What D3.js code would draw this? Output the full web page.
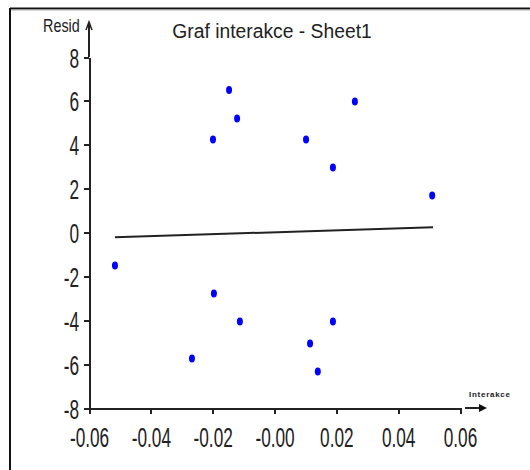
<!DOCTYPE html>
<html>
<head>
<meta charset="utf-8">
<script src="https://cdn.jsdelivr.net/npm/d3@7"></script>
<style>
  body { margin: 0; background: #fff; }
  svg { display: block; }
  text { font-family: "Liberation Sans", Arial, sans-serif; fill: #222; }
  .axis path, .axis line { stroke: #222; stroke-width: 2; shape-rendering: crispEdges; }
</style>
</head>
<body>
<script>
var w = 530, h = 470;

// residuals vs. interaction term
var interakce = [-0.0516, -0.0147, -0.0121, -0.0199, 0.026, 0.0102, 0.0189, 0.051, -0.0196, -0.0112, -0.0267, 0.0115, 0.0189, 0.014];
var resid     = [-1.5, 6.5, 5.2, 4.24, 5.97, 4.24, 2.96, 1.69, -2.78, -4.06, -5.74, -5.06, -4.06, -6.34];

// fitted line
var fitX = [-0.0516, 0.0513];
var fitY = [-0.22, 0.24];

var xTicks = [-0.06, -0.04, -0.02, 0, 0.02, 0.04, 0.06];
var xTickLabels = ['-0.06', '-0.04', '-0.02', '-0.00', '0.02', '0.04', '0.06'];
var yTicks = [-8, -6, -4, -2, 0, 2, 4, 6, 8];
var yTickLabels = ['-8', '-6', '-4', '-2', '0', '2', '4', '6', '8'];

var x = d3.scaleLinear().domain([-0.06, 0.06]).range([89, 460]);
var y = d3.scaleLinear().domain([-8, 8]).range([408, 57]);

var svg = d3.select('body')
  .append('svg')
  .attr('width', w)
  .attr('height', h);

// frame (top + left edge only)
svg.append('line')
  .attr('x1', 10).attr('x2', w).attr('y1', 8.5).attr('y2', 8.5)
  .style('stroke', '#111').style('stroke-width', 2);
svg.append('line')
  .attr('x1', 11).attr('x2', w).attr('y1', 10).attr('y2', 10)
  .style('stroke', '#aaa').style('stroke-width', 1);
svg.append('line')
  .attr('x1', 10).attr('x2', 10).attr('y1', 8).attr('y2', h)
  .style('stroke', '#111').style('stroke-width', 2);

// title
svg.append('text')
  .attr('transform', 'translate(272,38) scale(0.92,1)')
  .style('text-anchor', 'middle')
  .style('font-size', '21px')
  .text('Graf interakce - Sheet1');

// x axis
var gx = svg.append('g')
  .attr('class', 'axis')
  .attr('transform', 'translate(0,' + y(-8) + ')')
  .call(d3.axisBottom(x)
    .tickValues(xTicks)
    .tickFormat(function(d, i) { return xTickLabels[i]; })
    .tickSize(6)
    .tickSizeOuter(0));

gx.selectAll('text')
  .attr('y', null)
  .attr('dy', null)
  .attr('transform', 'translate(0,39) scale(0.82,1.35)')
  .style('font-size', '21px')
  .style('fill', '#222');

// y axis
var gy = svg.append('g')
  .attr('class', 'axis')
  .attr('transform', 'translate(' + x(-0.06) + ',0)')
  .call(d3.axisLeft(y)
    .tickValues(yTicks)
    .tickFormat(function(d, i) { return yTickLabels[i]; })
    .tickSize(5)
    .tickSizeOuter(0));

gy.selectAll('text')
  .attr('x', null)
  .attr('dy', null)
  .attr('transform', 'translate(-10,10) scale(0.82,1.35)')
  .style('font-size', '21px')
  .style('fill', '#222');

gx.select('.domain').style('stroke-linecap', 'square');

// y axis extension + arrow
svg.append('line')
  .attr('x1', x(-0.06)).attr('x2', x(-0.06))
  .attr('y1', y(8)).attr('y2', 23)
  .style('stroke', '#222').style('stroke-width', 2);
svg.append('path')
  .attr('d', 'M' + (x(-0.06) - 3) + ',30 L' + x(-0.06) + ',22 L' + (x(-0.06) + 3) + ',30')
  .style('fill', 'none').style('stroke', '#222').style('stroke-width', 1.5);

// x axis arrow
svg.append('line')
  .attr('x1', 465).attr('x2', 481)
  .attr('y1', y(-8)).attr('y2', y(-8))
  .style('stroke', '#222').style('stroke-width', 2);
svg.append('path')
  .attr('d', 'M479,' + (y(-8) - 4) + ' L487,' + y(-8) + ' L479,' + (y(-8) + 4) + ' Z')
  .style('fill', '#111');

// axis titles
svg.append('text')
  .attr('transform', 'translate(43,32) scale(0.9,1.1)')
  .style('font-size', '16px')
  .text('Resid');

svg.append('text')
  .attr('x', 469)
  .attr('y', 397)
  .attr('textLength', 41)
  .style('font-size', '8px')
  .style('font-weight', 'bold')
  .text('Interakce');

// fitted line
svg.append('path')
  .datum(d3.zip(fitX, fitY))
  .attr('d', d3.line()
    .x(function(d) { return x(d[0]); })
    .y(function(d) { return y(d[1]); }))
  .style('fill', 'none')
  .style('stroke', '#222')
  .style('stroke-width', 2);

// points
svg.selectAll('ellipse.pt')
  .data(d3.zip(interakce, resid))
  .enter().append('ellipse')
    .attr('class', 'pt')
    .attr('cx', function(d) { return x(d[0]); })
    .attr('cy', function(d) { return y(d[1]); })
    .attr('rx', 3)
    .attr('ry', 4)
    .style('fill', '#0000ff');
</script>
</body>
</html>
